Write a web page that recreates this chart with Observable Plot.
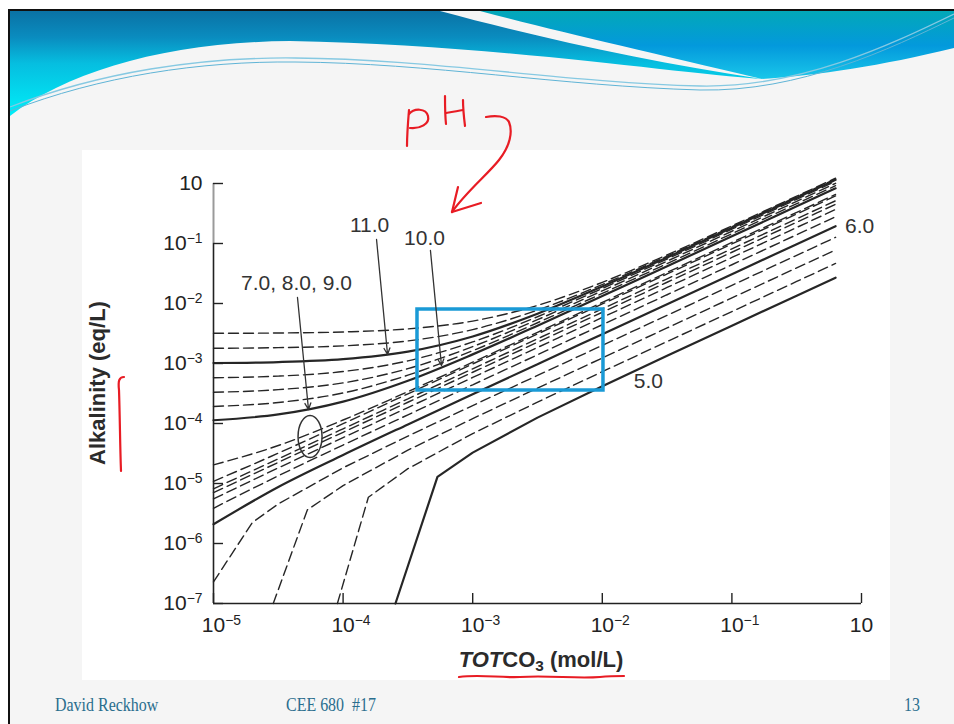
<!DOCTYPE html>
<html>
<head>
<meta charset="utf-8">
<script src="https://cdn.jsdelivr.net/npm/d3@7"></script>
<script src="https://cdn.jsdelivr.net/npm/@observablehq/plot@0.6"></script>
<style>
  html, body { margin:0; padding:0; background:#fff; }
  #slide { position:relative; width:954px; height:724px; overflow:hidden; background:#fff; }
  #page { position:absolute; left:9px; top:10px; width:945px; height:714px; background:#f5f5f5; }
  #btop { position:absolute; left:8px; top:9px; width:946px; height:2px; background:#111; }
  #bleft { position:absolute; left:8px; top:9px; width:2px; height:715px; background:#111; }
  #chartbg { position:absolute; left:82px; top:150px; width:808px; height:530px; background:#fff; }
  #chart { position:absolute; left:82px; top:150px; }
  #chart svg { overflow:visible; }
  .ttl { position:absolute; font-family:"Liberation Sans", Arial, sans-serif; font-weight:bold; font-size:22px; color:#2b2b2b; white-space:nowrap; }
  #ytitle { left:98px; top:383px; line-height:30px; transform:translate(-50%,-50%) rotate(-90deg); }
  #xtitle { left:541px; top:647px; line-height:26px; transform:translateX(-50%); }
  #xtitle sub { font-size:0.7em; vertical-align:-0.28em; line-height:0; }
  .ft { position:absolute; top:694px; line-height:22px; font-family:"Liberation Serif","Times New Roman",serif; font-size:19px; color:#2a6e8e; white-space:nowrap; transform-origin:left center; transform:scaleX(0.84); }
  #hdr, #ink { position:absolute; left:0; top:0; pointer-events:none; }
</style>
</head>
<body>
<div id="slide">
  <div id="page"></div>
  <svg id="hdr" width="954" height="130">
    <defs>
      <linearGradient id="gL" gradientUnits="userSpaceOnUse" x1="0" y1="11" x2="0" y2="116">
        <stop offset="0" stop-color="#0a72a5"/>
        <stop offset="0.25" stop-color="#0a8cbf"/>
        <stop offset="0.5" stop-color="#06bee0"/>
        <stop offset="1" stop-color="#00eef8"/>
      </linearGradient>
      <linearGradient id="gR" gradientUnits="userSpaceOnUse" x1="0" y1="11" x2="0" y2="80">
        <stop offset="0" stop-color="#02a8b8"/>
        <stop offset="0.5" stop-color="#0399dc"/>
        <stop offset="1" stop-color="#1ac8ea"/>
      </linearGradient>
    </defs>
    <path d="M10,11 L440,11 C540,38 650,62 762,79 C680,74 500,45 290,41 C170,42 70,70 10,116 Z" fill="url(#gL)"/>
    <path d="M480,11 L954,11 L954,48 C880,66 820,75 762,79 C640,50 560,32 480,11 Z" fill="url(#gR)"/>
    <path d="M10,107 C100,72 200,57 295,58 C430,59 560,82 700,86 C800,88 890,45 954,14" fill="none" stroke="#86c9e2" stroke-width="1.3"/>
    <path d="M10,111 C100,76 200,61 295,62 C430,63 560,86 700,90 C800,92 890,49 954,18" fill="none" stroke="#5fb4d6" stroke-width="1"/>
  </svg>
  <div id="btop"></div>
  <div id="bleft"></div>
  <div id="chartbg"></div>
  <div id="chart"></div>
  <div id="ytitle" class="ttl">Alkalinity (eq/L)</div>
  <div id="xtitle" class="ttl"><i>TOT</i>CO<sub>3</sub> (mol/L)</div>
  <div class="ft" style="left:55px">David Reckhow</div>
  <div class="ft" style="left:286px">CEE 680&nbsp; #17</div>
  <div class="ft" style="left:904px">13</div>
  <svg id="ink" width="954" height="724">
    <g fill="none" stroke="#e81c24" stroke-width="2.2" stroke-linecap="round" stroke-linejoin="round">
      <path d="M407,146 C407,135 408,122 409,110"/>
      <path d="M409,114 C414,108 426,108 428,116 C430,124 420,129 410,128"/>
      <path d="M445,96 C445,105 445,115 446,124"/>
      <path d="M446,113 C452,112 458,111 463,110"/>
      <path d="M463,100 C463,110 464,118 465,126"/>
      <path d="M486,117 C496,115 506,116 509,122 C513,132 510,146 499,160 C488,174 466,192 452,212"/>
      <path d="M452,212 L481,203"/>
      <path d="M452,212 L458,187"/>
      <path d="M459,677 C480,674 500,678 520,677 C550,675 575,679 600,677 C610,676 618,676 624,676"/>
      <path d="M124,377 C119,377 118,381 119,390 C120,420 120,445 121,471"/>
    </g>
  </svg>
</div>
<script>
// ---- data (log10 values) ----
const logTOTCO3 = [-5, -4.5, -4, -3.5, -3, -2.5, -2, -1.5, -1, -0.5, -0.2];

const logAlk_pH6_00  = [-5.680, -5.058, -4.525, -4.015, -3.512, -3.011, -2.511, -2.011, -1.511, -1.011, -0.711];
const logAlk_pH6_25  = [-5.413, -4.872, -4.359, -3.856, -3.355, -2.855, -2.354, -1.854, -1.354, -0.854, -0.554];
const logAlk_pH6_50  = [-5.257, -4.740, -4.235, -3.734, -3.233, -2.733, -2.233, -1.733, -1.233, -0.733, -0.433];
const logAlk_pH6_75  = [-5.153, -4.648, -4.146, -3.646, -3.146, -2.646, -2.146, -1.646, -1.146, -0.646, -0.346];
const logAlk_pH7_00  = [-5.088, -4.588, -4.088, -3.588, -3.088, -2.588, -2.088, -1.588, -1.088, -0.588, -0.288];
const logAlk_pH8_00  = [-4.965, -4.494, -4.003, -3.506, -3.007, -2.507, -2.008, -1.508, -1.008, -0.508, -0.208];
const logAlk_pH9_00  = [-4.690, -4.367, -3.942, -3.469, -2.978, -2.481, -1.982, -1.482, -0.982, -0.482, -0.182];
const logAlk_pH10_00 = [-3.946, -3.849, -3.635, -3.287, -2.848, -2.370, -1.877, -1.379, -0.880, -0.380, -0.080];
const logAlk_pH10_25 = [-3.716, -3.650, -3.491, -3.195, -2.787, -2.321, -1.832, -1.336, -0.837, -0.337, -0.037];
const logAlk_pH10_50 = [-3.479, -3.436, -3.323, -3.086, -2.718, -2.270, -1.788, -1.294, -0.796, -0.297, 0.003];
const logAlk_pH10_75 = [-3.237, -3.210, -3.134, -2.956, -2.641, -2.221, -1.749, -1.259, -0.762, -0.263, 0.037];
const logAlk_pH11_00 = [-2.992, -2.976, -2.927, -2.802, -2.549, -2.170, -1.716, -1.232, -0.737, -0.238, 0.061];
const logAlk_pH11_25 = [-2.746, -2.736, -2.706, -2.624, -2.435, -2.110, -1.684, -1.210, -0.719, -0.222, 0.078];
const logAlk_pH11_50 = [-2.497, -2.492, -2.474, -2.423, -2.293, -2.032, -1.647, -1.191, -0.706, -0.211, 0.088];

// low-pH curves that drop below the plotted range at small TOTCO3
const logTOT_pH5_75 = [-5, -4.7, -4.5, -4, -3.5, -3, -2.5, -2, -1.5, -1, -0.5, -0.2];
const logAlk_pH5_75 = [-6.640, -5.650, -5.340, -4.738, -4.210, -3.701, -3.199, -2.698, -2.197, -1.697, -1.197, -0.897];
const logTOT_pH5_50 = [-4.539, -4.276, -4, -3.5, -3, -2.5, -2, -1.5, -1, -0.5, -0.2];
const logAlk_pH5_50 = [-7.000, -5.440, -5.035, -4.444, -3.919, -3.411, -2.908, -2.408, -1.907, -1.407, -1.107];
const logTOT_pH5_25 = [-4.044, -3.805, -3.5, -3, -2.5, -2, -1.5, -1, -0.5, -0.2];
const logAlk_pH5_25 = [-7.000, -5.229, -4.753, -4.168, -3.644, -3.137, -2.634, -2.134, -1.633, -1.333];
const logTOT_pH5_00 = [-3.596, -3.272, -3, -2.5, -2, -1.5, -1, -0.5, -0.2];
const logAlk_pH5_00 = [-7.000, -4.890, -4.485, -3.902, -3.379, -2.872, -2.370, -1.869, -1.569];

const solidPH = [5.0, 6.0, 10.0, 11.0];

const xTickValues = [1e-5, 1e-4, 1e-3, 1e-2, 1e-1, 1];
const xTickLabels = ["10^-5", "10^-4", "10^-3", "10^-2", "10^-1", "10"];
const yTickValues = [1e-7, 1e-6, 1e-5, 1e-4, 1e-3, 1e-2, 1e-1, 1];
const yTickLabels = ["10^-7", "10^-6", "10^-5", "10^-4", "10^-3", "10^-2", "10^-1", "10"];

const curveLabels = [
  {text: "11.0", logC: -3.796, logAlk: -0.70},
  {text: "10.0", logC: -3.372, logAlk: -0.917},
  {text: "7.0, 8.0, 9.0", logC: -4.360, logAlk: -1.667},
  {text: "6.0", logC: -0.015, logAlk: -0.717},
  {text: "5.0", logC: -1.644, logAlk: -3.30}
];
const labelArrows = [
  {logC1: -3.742, logAlk1: -0.933, logC2: -3.657, logAlk2: -2.85},
  {logC1: -3.326, logAlk1: -1.117, logC2: -3.241, logAlk2: -3.033},
  {logC1: -4.352, logAlk1: -1.90, logC2: -4.267, logAlk2: -3.767}
];
const groupEllipse = [{logC: -4.255, logAlk: -4.217}];
const highlightBox = [{logC1: -3.426, logC2: -1.991, logAlk1: -2.10, logAlk2: -3.45}];

// ---- build table ----
const series = [
  {pH: 5.0,  xs: logTOT_pH5_00, ys: logAlk_pH5_00, drop: true},
  {pH: 5.25, xs: logTOT_pH5_25, ys: logAlk_pH5_25, drop: true},
  {pH: 5.5,  xs: logTOT_pH5_50, ys: logAlk_pH5_50, drop: true},
  {pH: 5.75, xs: logTOT_pH5_75, ys: logAlk_pH5_75, drop: true},
  {pH: 6.0,  xs: logTOTCO3, ys: logAlk_pH6_00},
  {pH: 6.25, xs: logTOTCO3, ys: logAlk_pH6_25},
  {pH: 6.5,  xs: logTOTCO3, ys: logAlk_pH6_50},
  {pH: 6.75, xs: logTOTCO3, ys: logAlk_pH6_75},
  {pH: 7.0,  xs: logTOTCO3, ys: logAlk_pH7_00},
  {pH: 8.0,  xs: logTOTCO3, ys: logAlk_pH8_00},
  {pH: 9.0,  xs: logTOTCO3, ys: logAlk_pH9_00},
  {pH: 10.0, xs: logTOTCO3, ys: logAlk_pH10_00},
  {pH: 10.25, xs: logTOTCO3, ys: logAlk_pH10_25},
  {pH: 10.5, xs: logTOTCO3, ys: logAlk_pH10_50},
  {pH: 10.75, xs: logTOTCO3, ys: logAlk_pH10_75},
  {pH: 11.0, xs: logTOTCO3, ys: logAlk_pH11_00},
  {pH: 11.25, xs: logTOTCO3, ys: logAlk_pH11_25},
  {pH: 11.5, xs: logTOTCO3, ys: logAlk_pH11_50}
];
const rows = [];
for (const s of series) {
  s.xs.forEach((x, i) => rows.push({
    pH: s.pH, solid: solidPH.includes(s.pH), drop: !!s.drop,
    C: Math.pow(10, x), A: Math.pow(10, s.ys[i])
  }));
}
const pick = (solid, drop) => rows.filter(d => d.solid === solid && d.drop === drop);

const ink = "#262626";
const lineOpts = {x: "C", y: "A", z: "pH", stroke: ink, fill: "none"};
const dashed = {strokeWidth: 1.4, strokeDasharray: "10,5"};
const solid = {strokeWidth: 2.2};

const labelOf = (vals, labels) => d => {
  const i = vals.findIndex(v => Math.abs(Math.log10(v) - Math.log10(d)) < 1e-6);
  return i >= 0 ? labels[i] : "";
};

const ellipseSymbol = {
  draw(ctx) {
    const rx = 12, ry = 21, k = 0.5523;
    ctx.moveTo(rx, 0);
    ctx.bezierCurveTo(rx, k * ry, k * rx, ry, 0, ry);
    ctx.bezierCurveTo(-k * rx, ry, -rx, k * ry, -rx, 0);
    ctx.bezierCurveTo(-rx, -k * ry, -k * rx, -ry, 0, -ry);
    ctx.bezierCurveTo(k * rx, -ry, rx, -k * ry, rx, 0);
    ctx.closePath();
  }
};
const P = v => Math.pow(10, v);

const chart = Plot.plot({
  width: 808,
  height: 530,
  marginLeft: 131,
  marginRight: 29,
  marginTop: 33,
  marginBottom: 77,
  x: {type: "log", domain: [1e-5, 1], label: null},
  y: {type: "log", domain: [1e-7, 1], label: null},
  style: {background: "transparent", fontFamily: "'Liberation Sans', Arial, sans-serif", fontSize: "21px", color: "#222"},
  marks: [
    Plot.line(pick(false, false), {...lineOpts, ...dashed, curve: "monotone-x"}),
    Plot.line(pick(false, true), {...lineOpts, ...dashed, curve: "linear"}),
    Plot.line(pick(true, false), {...lineOpts, ...solid, curve: "monotone-x"}),
    Plot.line(pick(true, true), {...lineOpts, ...solid, curve: "linear"}),
    Plot.ruleY([1e-7], {stroke: "#222", strokeWidth: 1.6}),
    Plot.ruleX([1e-5], {y1: 1e-7, y2: 1e-1, stroke: "#222", strokeWidth: 1.6}),
    Plot.ruleX([1e-5], {y1: 1e-1, y2: 1, stroke: "#9a9a9a", strokeWidth: 2}),
    Plot.axisX({ticks: xTickValues, tickSize: 10, dy: -10, tickFormat: () => "", label: null, stroke: "#222", strokeWidth: 1.4}),
    Plot.axisX({ticks: xTickValues, tickSize: 0, tickPadding: 14, tickFormat: labelOf(xTickValues, xTickLabels), label: null, fill: "#222", fontSize: 21}),
    Plot.axisY({ticks: yTickValues, tickSize: 10, dx: 10, tickFormat: () => "", label: null, stroke: "#222", strokeWidth: 1.4}),
    Plot.axisY({ticks: yTickValues, tickSize: 0, tickPadding: 11, tickFormat: labelOf(yTickValues, yTickLabels), label: null, fill: "#222", fontSize: 21}),
    Plot.rect(highlightBox, {x1: d => P(d.logC1), x2: d => P(d.logC2), y1: d => P(d.logAlk1), y2: d => P(d.logAlk2), fill: "none", stroke: "#1a9ad6", strokeWidth: 3.5}),
    Plot.arrow(labelArrows, {x1: d => P(d.logC1), y1: d => P(d.logAlk1), x2: d => P(d.logC2), y2: d => P(d.logAlk2), stroke: "#333", strokeWidth: 1.3, headLength: 8, headAngle: 50}),
    Plot.dot(groupEllipse, {x: d => P(d.logC), y: d => P(d.logAlk), symbol: ellipseSymbol, r: 5, stroke: "#333", strokeWidth: 1.5, fill: "none"}),
    Plot.text(curveLabels, {x: d => P(d.logC), y: d => P(d.logAlk), text: "text", fontSize: 21, fill: "#333", textAnchor: "middle"})
  ]
});

// superscripts for tick labels
d3.select(chart).selectAll("text").each(function () {
  const t = this.textContent;
  if (!t.includes("^")) return;
  const [b, e] = t.split("^");
  const g = this.parentNode;
  const isX = g && g.getAttribute && (g.getAttribute("aria-label") || "").startsWith("x-axis");
  const sel = d3.select(this);
  sel.text(null);
  const base = sel.append("tspan").text(b);
  sel.append("tspan").attr("font-size", "0.66em").attr("dy", "-0.55em").text(e.replace("-", "\u2212"));
  if (isX) { sel.attr("text-anchor", "start"); base.attr("dx", "-0.556em"); }
});

document.getElementById("chart").appendChild(chart);
</script>
</body>
</html>
